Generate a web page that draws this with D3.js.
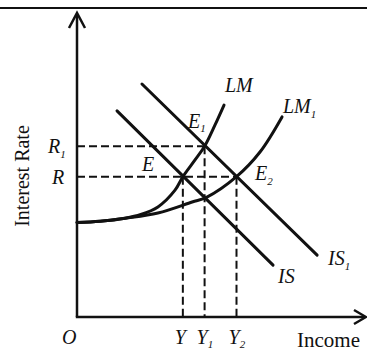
<!DOCTYPE html>
<html>
<head>
<meta charset="utf-8">
<script src="https://cdn.jsdelivr.net/npm/d3@7"></script>
<style>
  html, body { margin: 0; padding: 0; background: #fff; }
  svg { display: block; }
  text { font-family: "Liberation Serif", "Times New Roman", serif; fill: #111; }
  .it { font-style: italic; }
</style>
</head>
<body>
<svg id="chart" width="367" height="351"></svg>
<script>
// IS-LM diagram: income on the horizontal axis, interest rate on the vertical axis.

// Equilibrium income levels (Y, Y1, Y2)
const incomeNames = ["Y", "Y", "Y"];
const incomeSubs = ["", "1", "2"];
const incomeValues = [36.5, 44, 55];

// Equilibrium interest rates (R, R1)
const rateNames = ["R", "R"];
const rateSubs = ["", "1"];
const rateValues = [46, 56];

// LM curves (income, interest rate)
const lmIncome  = [0, 8, 16.6, 22, 27.9, 33.8, 36.5, 40.7, 44, 47.6, 50.7];
const lmRate    = [31, 31.4, 32.4, 33.6, 36.1, 41.6, 46, 51.5, 56, 63, 69.5];
const lm1Income = [0, 8, 16.6, 27.9, 39.7, 44.8, 55, 63.1, 70.7];
const lm1Rate   = [31, 31.4, 32.4, 34.1, 37.7, 39.3, 46, 54.1, 65.6];

// IS curves (straight, downward sloping)
const isIncome  = [13.8, 67.6];
const isRate    = [67.6, 17];
const is1Income = [22.4, 82.8];
const is1Rate   = [76.4, 20.3];

const svg = d3.select("#chart");

const x = d3.scaleLinear().domain([0, 100]).range([77, 367]);
const y = d3.scaleLinear().domain([0, 100]).range([317, 12]);

const zip = (a, b) => a.map((v, i) => [v, b[i]]);
const line = d3.line().x(d => x(d[0])).y(d => y(d[1])).curve(d3.curveCatmullRom.alpha(0.5));
const straight = d3.line().x(d => x(d[0])).y(d => y(d[1]));

// top rule
svg.append("line").attr("x1", 0).attr("x2", 367).attr("y1", 8).attr("y2", 8)
  .attr("stroke", "#111").attr("stroke-width", 2);

// dashed guide lines
const E1 = [incomeValues[1], rateValues[1]];
const E2 = [incomeValues[2], rateValues[0]];
const dash = g => g.attr("stroke", "#111").attr("stroke-width", 2).attr("stroke-dasharray", "8,4").attr("fill", "none");
svg.append("line").attr("x1", x(0)).attr("x2", x(E1[0])).attr("y1", y(E1[1])).attr("y2", y(E1[1])).call(dash);
svg.append("line").attr("x1", x(0)).attr("x2", x(E2[0])).attr("y1", y(E2[1])).attr("y2", y(E2[1])).call(dash);
const verticalTops = [rateValues[0], rateValues[1], rateValues[0]];
incomeValues.forEach((v, i) => {
  svg.append("line").attr("x1", x(v)).attr("x2", x(v))
    .attr("y1", y(verticalTops[i])).attr("y2", y(0)).call(dash);
});

// curves
const curveStyle = p => p.attr("fill", "none").attr("stroke", "#111").attr("stroke-width", 3).attr("stroke-linecap", "round");
svg.append("path").attr("d", line(zip(lmIncome, lmRate))).call(curveStyle);
svg.append("path").attr("d", line(zip(lm1Income, lm1Rate))).call(curveStyle);
svg.append("path").attr("d", straight(zip(isIncome, isRate))).call(curveStyle);
svg.append("path").attr("d", straight(zip(is1Income, is1Rate))).call(curveStyle);

// axes with arrowheads
const axis = g => g.attr("fill", "none").attr("stroke", "#111").attr("stroke-width", 2.5);
svg.append("path").attr("d", `M${x(0)},${y(0)}V${y(100) + 2}`).call(axis);
svg.append("path").attr("d", `M${x(0) - 1.2},${y(0)}H${x(100) - 2}`).call(axis);
svg.append("path").attr("d", `M${x(0) - 8},${y(100) + 16}L${x(0)},${y(100) + 1}L${x(0) + 8},${y(100) + 16}`)
  .call(axis).attr("stroke-linejoin", "miter");
svg.append("path").attr("d", `M${x(100) - 13},${y(0) - 7}L${x(100) - 1},${y(0)}L${x(100) - 13},${y(0) + 7}`)
  .call(axis).attr("stroke-linejoin", "miter");

// label helper with optional subscript
function label(tx, ty, main, sub, size, subSize, subDy) {
  const t = svg.append("text").attr("class", "it").attr("x", tx).attr("y", ty).attr("font-size", size);
  t.append("tspan").text(main);
  if (sub) t.append("tspan").attr("font-size", subSize).attr("dy", subDy).text(sub);
  return t;
}

// axis labels
svg.append("text").attr("transform", "translate(29,176) rotate(-90)")
  .attr("text-anchor", "middle").attr("font-size", 20).text("Interest Rate");
svg.append("text").attr("x", 297).attr("y", 347).attr("font-size", 21).text("Income");
label(62, 344, "O", "", 20);

// income level labels
incomeValues.forEach((v, i) => {
  label(x(v) - 8, 344, incomeNames[i], incomeSubs[i], 20, 11, 4);
});

// interest rate labels
rateValues.forEach((v, i) => {
  label(i === 1 ? 48 : 52, y(v) + 7, rateNames[i], rateSubs[i], 20, 11, 5);
});

// curve names
label(225, 92, "LM", "", 20);
label(283, 113, "LM", "1", 20, 11, 5);
label(278, 283, "IS", "", 20);
label(328, 265, "IS", "1", 20, 11, 5);

// equilibrium points
label(142, 171, "E", "", 20);
label(188, 128, "E", "1", 20, 11, 4);
label(255, 180, "E", "2", 20, 11, 5);
</script>
</body>
</html>
